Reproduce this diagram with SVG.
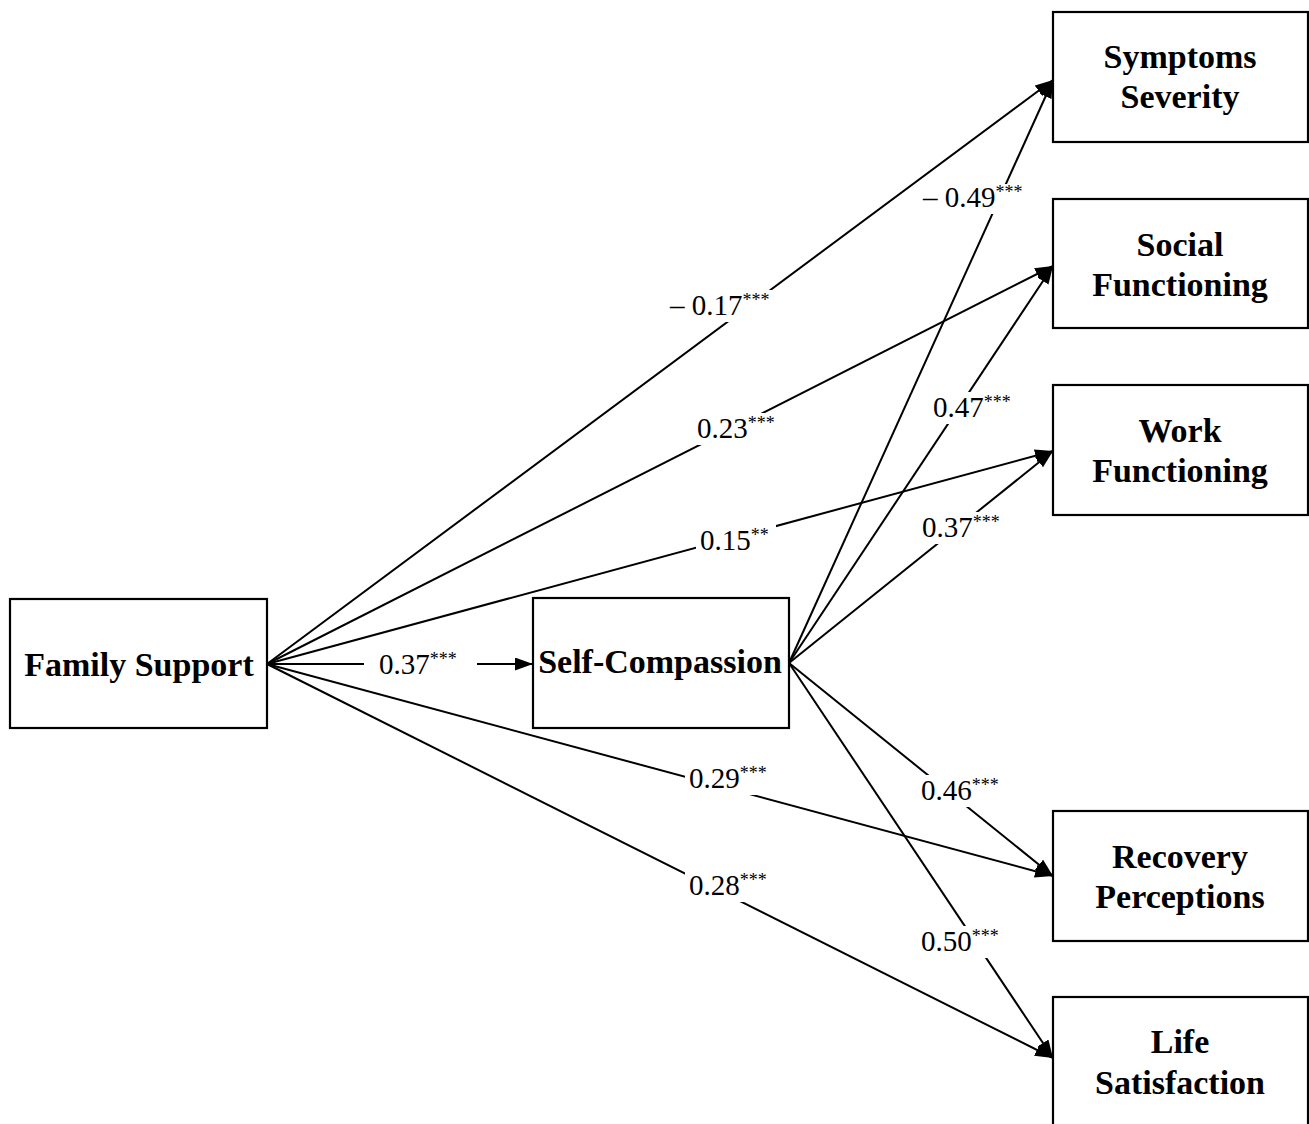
<svg xmlns="http://www.w3.org/2000/svg" width="1309" height="1124" viewBox="0 0 1309 1124">
<defs>
<marker id="ah" markerUnits="userSpaceOnUse" markerWidth="20" markerHeight="14" refX="18" refY="6.5" orient="auto">
<path d="M0,0 L18,6.5 L0,13 z" fill="#000"/>
</marker>
<style>
.box{fill:#fff;stroke:#000;stroke-width:2.2}
.nt{font-family:"Liberation Serif","Times New Roman",serif;font-weight:bold;font-size:34px;fill:#000;text-anchor:middle}
.ln{stroke:#000;stroke-width:2;fill:none;marker-end:url(#ah)}
.lb{font-family:"Liberation Serif","Times New Roman",serif;font-size:29px;fill:#000}
.bg{fill:#fff;stroke:none}
.st{font-size:18px}
</style>
</defs>
<rect width="1309" height="1124" fill="#fff"/>
<g id="connectors">
<line class="ln" x1="267" y1="664" x2="1053" y2="80"/>
<line class="ln" x1="267" y1="664" x2="1053" y2="266"/>
<line class="ln" x1="267" y1="664" x2="1053" y2="451"/>
<line class="ln" x1="267" y1="664" x2="533" y2="664"/>
<line class="ln" x1="267" y1="664" x2="1053" y2="876"/>
<line class="ln" x1="267" y1="664" x2="1053" y2="1058"/>
<line class="ln" x1="789" y1="663" x2="1053" y2="80"/>
<line class="ln" x1="789" y1="663" x2="1053" y2="266"/>
<line class="ln" x1="789" y1="663" x2="1053" y2="451"/>
<line class="ln" x1="789" y1="663" x2="1053" y2="876"/>
<line class="ln" x1="789" y1="663" x2="1053" y2="1058"/>
<g id="labels">
<rect class="bg" x="666" y="290" width="110" height="32"/>
<text class="lb" x="670" y="315">– 0.17<tspan class="st" dy="-9">***</tspan></text>
<rect class="bg" x="693" y="413" width="86" height="32"/>
<text class="lb" x="697" y="438">0.23<tspan class="st" dy="-9">***</tspan></text>
<rect class="bg" x="696" y="525" width="80" height="32"/>
<text class="lb" x="700" y="550">0.15<tspan class="st" dy="-9">**</tspan></text>
<rect class="bg" x="364" y="648" width="113" height="32"/>
<text class="lb" x="379" y="674">0.37<tspan class="st" dy="-9">***</tspan></text>
<rect class="bg" x="685" y="763" width="87" height="32"/>
<text class="lb" x="689" y="788">0.29<tspan class="st" dy="-9">***</tspan></text>
<rect class="bg" x="685" y="870" width="87" height="32"/>
<text class="lb" x="689" y="895">0.28<tspan class="st" dy="-9">***</tspan></text>
<rect class="bg" x="920" y="184" width="108" height="30"/>
<text class="lb" x="923" y="207">– 0.49<tspan class="st" dy="-9">***</tspan></text>
<rect class="bg" x="929" y="392" width="87" height="32"/>
<text class="lb" x="933" y="417">0.47<tspan class="st" dy="-9">***</tspan></text>
<rect class="bg" x="918" y="512" width="87" height="32"/>
<text class="lb" x="922" y="537">0.37<tspan class="st" dy="-9">***</tspan></text>
<rect class="bg" x="917" y="775" width="87" height="32"/>
<text class="lb" x="921" y="800">0.46<tspan class="st" dy="-9">***</tspan></text>
<rect class="bg" x="917" y="926" width="87" height="32"/>
<text class="lb" x="921" y="951">0.50<tspan class="st" dy="-9">***</tspan></text>
</g>
</g>
<g id="family-support">
<rect class="box" x="10" y="599" width="257" height="129"/>
<text class="nt" x="139" y="676">Family Support</text>
</g>
<g id="self-compassion">
<rect class="box" x="533" y="598" width="256" height="130"/>
<text class="nt" x="660" y="673">Self-Compassion</text>
</g>
<g id="symptoms-severity">
<rect class="box" x="1053" y="12" width="255" height="130"/>
<text class="nt" x="1180" y="68">Symptoms</text>
<text class="nt" x="1180" y="108">Severity</text>
</g>
<g id="social-functioning">
<rect class="box" x="1053" y="199" width="255" height="129"/>
<text class="nt" x="1180" y="256">Social</text>
<text class="nt" x="1180" y="296">Functioning</text>
</g>
<g id="work-functioning">
<rect class="box" x="1053" y="385" width="255" height="130"/>
<text class="nt" x="1180" y="442">Work</text>
<text class="nt" x="1180" y="482">Functioning</text>
</g>
<g id="recovery-perceptions">
<rect class="box" x="1053" y="811" width="255" height="130"/>
<text class="nt" x="1180" y="868">Recovery</text>
<text class="nt" x="1180" y="908">Perceptions</text>
</g>
<g id="life-satisfaction">
<rect class="box" x="1053" y="997" width="255" height="140"/>
<text class="nt" x="1180" y="1053">Life</text>
<text class="nt" x="1180" y="1094">Satisfaction</text>
</g>
</svg>
